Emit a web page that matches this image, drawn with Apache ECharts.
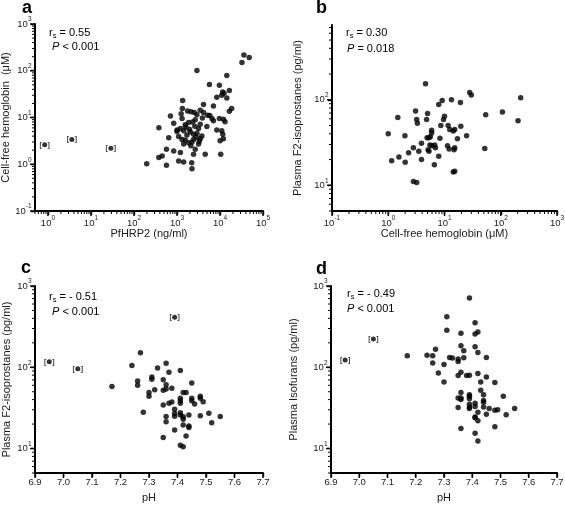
<!DOCTYPE html>
<html>
<head>
<meta charset="utf-8">
<script src="https://cdn.jsdelivr.net/npm/echarts@6/dist/echarts.min.js"></script>
<style>html,body{margin:0;padding:0;background:#fff;}#chart{width:565px;height:512px;}</style>
</head>
<body>
<div id="chart"></div>
<script>
// ---------- data ----------
// Panel a: PfHRP2 (ng/ml) vs cell-free hemoglobin (uM)
const aPoints = [[36000,216],[47800,193],[32400,151],[2910,101],[14400,79],[5690,51],[9680,49],[16500,38],[12400,33],[11000,30],[8430,27],[14400,26],[1355,23],[4140,19],[7040,17.7],[18700,15.6],[16500,13.6],[1333,15.6],[1766,13.8],[2117,13.2],[2524,12.8],[3470,14.3],[4140,12.8],[2910,11.4],[5120,11.2],[704,10.8],[9680,9.5],[12000,9.2],[13100,8.1],[1312,9.5],[2660,8.9],[839,7.5],[1862,7.8],[3470,7.2],[7040,8.5],[380,6.0],[1005,5.4],[1200,5.8],[1430,5.2],[3170,5.8],[4950,6.4],[2040,4.9],[2430,4.4],[2910,4.6],[8430,5.4],[11000,5.2],[11600,4.4],[643,3.7],[1094,3.9],[1312,3.4],[1563,3.3],[2430,3.4],[3470,3.5],[3800,4.0],[10050,3.2],[12000,3.5],[1430,2.7],[1862,2.9],[2230,3.0],[3170,2.7],[569,2.1],[839,1.93],[1200,1.78],[2660,2.1],[2430,1.64],[4530,1.64],[10400,1.64],[378,1.39],[453,1.5],[569,0.95],[1094,1.18],[1430,1.12],[2200,1.08],[2230,0.8],[198,1.03],[1700,4.2],[1950,5.6],[2600,6.5],[1550,7.0],[1250,12.0],[2800,3.8],[3900,9.8],[6500,9.5],[11500,35],[1000,5.0],[3300,3.1],[5800,11.0],[2100,2.5],[1600,6.2],[2300,8.0]];
const aExcluded = [[0.84,2.6],[3.6,3.4],[29,2.2]];

// Panel b: cell-free hemoglobin (uM) vs plasma F2-isoprostanes (pg/ml)
const bPoints = [[4.6,154],[28,122],[30,114],[13.3,100],[9.1,98],[7.9,88],[19.2,93],[107,72],[54,67],[226,106],[203,57],[3.06,74],[5.0,69],[1.48,62],[3.2,59],[3.3,53],[4.8,59],[10,64],[9.6,59],[5.9,44],[5.9,41],[1.0,40],[1.98,38],[8.6,50],[11.6,50],[12.4,45],[15.2,45],[14.3,43],[19.5,49],[24.7,38],[4.9,36],[5.3,36],[5.6,37],[8.3,35.5],[17,35],[3.9,31],[5.5,29.5],[6.0,29],[6.7,29.5],[6.9,27.5],[11.3,29],[12.1,26.5],[15.2,27.5],[14.8,26],[2.8,27.5],[5.1,26],[5.3,25],[3.5,25],[2.3,24],[1.55,21.4],[7.9,21.8],[1.15,19.4],[2.0,18.6],[3.9,20],[6.6,17.4],[14.3,14.3],[15.2,14.6],[2.8,11.1],[3.2,10.8],[52,27]];

// Panel c: pH vs plasma F2-isoprostanes (pg/ml)
const cPoints = [[7.17,58],[7.24,105],[7.27,151],[7.28,28],[7.26,68],[7.26,60],[7.30,49],[7.30,44],[7.31,76],[7.31,71],[7.32,53],[7.33,98],[7.36,112],[7.37,87],[7.41,91],[7.35,70],[7.36,61],[7.35,52],[7.36,54],[7.38,55],[7.45,64],[7.42,49],[7.43,49],[7.41,41.5],[7.41,38.8],[7.41,36],[7.45,41.5],[7.45,38.8],[7.46,35.3],[7.48,44],[7.48,41.5],[7.49,37.7],[7.35,34.4],[7.37,36],[7.38,37.4],[7.39,30.4],[7.39,27],[7.39,25],[7.41,27.6],[7.41,25.9],[7.42,24.6],[7.42,22.9],[7.44,25.9],[7.36,24.7],[7.36,21.4],[7.48,25.4],[7.51,27.2],[7.55,24.7],[7.52,20.8],[7.42,19.5],[7.44,18.9],[7.44,18.2],[7.39,16.9],[7.35,13.7],[7.43,14.3],[7.41,11.0],[7.42,10.5]];
const cExcluded = [[6.95,117],[7.05,96],[7.39,413]];

// Panel d: pH vs plasma isofurans (pg/ml)
const dPoints = [[7.17,139],[7.24,141],[7.26,139],[7.27,167],[7.26,113],[7.28,85],[7.30,108],[7.30,66],[7.31,417],[7.31,285],[7.32,132],[7.33,130],[7.35,126],[7.35,118],[7.36,263],[7.36,184],[7.37,160],[7.37,131],[7.35,79],[7.36,87],[7.38,79],[7.39,80],[7.39,714],[7.41,353],[7.41,256],[7.42,272],[7.41,179],[7.42,152],[7.45,132],[7.45,76],[7.42,84],[7.43,66],[7.43,52],[7.44,46],[7.44,39],[7.48,65],[7.51,44],[7.36,49],[7.36,42],[7.36,40],[7.39,46],[7.39,44],[7.39,41],[7.35,42],[7.35,32],[7.41,36],[7.41,33],[7.39,35],[7.39,32.5],[7.39,31],[7.44,37],[7.44,32.5],[7.46,31],[7.42,28],[7.42,22],[7.41,24.5],[7.41,24],[7.45,26.5],[7.48,29.5],[7.49,30],[7.52,26],[7.55,31],[7.36,17.7],[7.41,15.4],[7.42,12.4],[7.48,18.5]];
const dExcluded = [[6.95,123],[7.05,222]];

// tick labels
const aXTicks = [1,10,100,1000,10000,100000];
const aYTicks = [0.1,1,10,100,1000];
const bXTicks = [0.1,1,10,100,1000];
const bYTicks = [10,100];
const cdYTicks = [10,100,1000];
const pHTicks = [6.9,7.0,7.1,7.2,7.3,7.4,7.5,7.6,7.7];

const panelText = [
  {letter:'a', rs:' = 0.55', p:' < 0.001'},
  {letter:'b', rs:' = 0.30', p:' = 0.018'},
  {letter:'c', rs:' = - 0.51', p:' < 0.001'},
  {letter:'d', rs:' = - 0.49', p:' < 0.001'}
];

// ---------- styling / layout ----------
const FONT = '"Liberation Sans", Arial, sans-serif';
const INK = '#1a1a1a';

function minorOf(lo, hi) {
  const out = [];
  for (let e = -3; e <= 6; e++) {
    for (let m = 2; m <= 9; m++) {
      const v = +(m * Math.pow(10, e)).toPrecision(6);
      if (v >= lo * 0.9999 && v <= hi * 1.0001) out.push(v);
    }
  }
  return out;
}

const supRich = {
  b: {fontSize: 9.5, fontFamily: FONT, color: INK, lineHeight: 16},
  s: {fontSize: 6.5, fontFamily: FONT, color: INK, lineHeight: 7, verticalAlign: 'top'}
};
const supFmt = v => '{b|10}{s|' + Math.round(Math.log10(v)) + '}';
const nameStyle = {fontSize: 11, fontFamily: FONT, color: INK};

function logAxis(grid, lo, hi, majors, pos, name, nameGap, labelMargin) {
  return {
    type: 'log', logBase: 10, gridIndex: grid, min: lo, max: hi, position: pos,
    axisLine: {show: true, onZero: false, lineStyle: {color: '#000', width: 2}},
    axisTick: {show: true, inside: false, length: 4, customValues: majors, lineStyle: {color: '#000', width: 1.4}},
    axisLabel: {show: true, customValues: majors, formatter: supFmt, rich: supRich, margin: labelMargin},
    splitLine: {show: false},
    name: name, nameLocation: 'middle', nameGap: nameGap, nameTextStyle: nameStyle
  };
}
function pHAxis(grid, nameGap) {
  return {
    type: 'value', gridIndex: grid, min: 6.9, max: 7.7, position: 'bottom',
    axisLine: {show: true, onZero: false, lineStyle: {color: '#000', width: 2}},
    axisTick: {show: true, inside: false, length: 4, customValues: pHTicks, lineStyle: {color: '#000', width: 1.4}},
    axisLabel: {show: true, customValues: pHTicks, formatter: v => v.toFixed(1), fontSize: 9.5, fontFamily: FONT, color: INK, margin: 4},
    splitLine: {show: false},
    name: 'pH', nameLocation: 'middle', nameGap: nameGap, nameTextStyle: nameStyle
  };
}

const gridBase = {outerBoundsMode: 'none', containLabel: false, show: false};
const grids = [
  Object.assign({left: 35, top: 24, width: 228, height: 187}, gridBase),
  Object.assign({left: 332, top: 25, width: 225, height: 186}, gridBase),
  Object.assign({left: 35, top: 286, width: 228, height: 187}, gridBase),
  Object.assign({left: 331, top: 286, width: 226, height: 187}, gridBase)
];

const xAxes = [
  logAxis(0, 0.5, 100000, aXTicks, 'bottom', 'PfHRP2 (ng/ml)', 17, 4),
  logAxis(1, 0.1, 1000, bXTicks, 'bottom', 'Cell-free hemoglobin (\u03BCM)', 16, 4),
  pHAxis(2, 19),
  pHAxis(3, 19)
];
const yAxes = [
  logAxis(0, 0.1, 1000, aYTicks, 'left', 'Cell-free hemoglobin  (\u03BCM)', 21, 3.5),
  logAxis(1, 5, 750, bYTicks, 'left', 'Plasma F2-isoprostanes (pg/ml)', 29, 3.5),
  logAxis(2, 5, 1000, cdYTicks, 'left', 'Plasma F2-isoprostanes (pg/ml)', 23, 3.5),
  logAxis(3, 5, 1000, cdYTicks, 'left', 'Plasma Isofurans (pg/ml)', 32, 3.5)
];

function dots(xi, yi, data, size) {
  return {type: 'scatter', xAxisIndex: xi, yAxisIndex: yi, data: data, symbol: 'circle', symbolSize: size,
    itemStyle: {color: '#000'}, silent: true, z: 3};
}
function bracketed(xi, yi, data, size) {
  const s = dots(xi, yi, data, size);
  s.label = {show: true, position: 'inside', formatter: '[   ]', fontSize: 7, fontWeight: 'bold', fontFamily: FONT, color: '#000'};
  return s;
}

const series = [
  dots(0, 0, aPoints, 5.5), bracketed(0, 0, aExcluded, 5),
  dots(1, 1, bPoints, 5.5),
  dots(2, 2, cPoints, 5.5), bracketed(2, 2, cExcluded, 5),
  dots(3, 3, dPoints, 5.5), bracketed(3, 3, dExcluded, 5)
];

// annotation text positions
const letterPos = [[22, 8], [316, 8], [21, 268], [316, 269]];
const rsPos = [[49, 33], [346, 33], [49, 297], [347, 294]];
const pPos = [[52, 47], [347, 49], [52, 312], [347, 309]];

const annRich = {
  r: {fontSize: 11, fontFamily: FONT, color: INK, lineHeight: 14},
  sub: {fontSize: 7.5, fontFamily: FONT, color: INK, lineHeight: 8, verticalAlign: 'bottom'},
  t: {fontSize: 11, fontFamily: FONT, color: INK, lineHeight: 14},
  it: {fontSize: 11, fontFamily: FONT, color: INK, fontStyle: 'italic', lineHeight: 14}
};

const textEls = [];
panelText.forEach((pt, i) => {
  textEls.push({type: 'text', x: letterPos[i][0], y: letterPos[i][1],
    style: {text: pt.letter, font: 'bold 18px ' + FONT, fill: '#000', verticalAlign: 'middle', align: 'left'}});
  textEls.push({type: 'text', x: rsPos[i][0], y: rsPos[i][1],
    style: {text: '{r|r}{sub|s}{t|' + pt.rs + '}', rich: annRich, verticalAlign: 'middle', align: 'left'}});
  textEls.push({type: 'text', x: pPos[i][0], y: pPos[i][1],
    style: {text: '{it|P}{t|' + pt.p + '}', rich: annRich, verticalAlign: 'middle', align: 'left'}});
});

const option = {
  animation: false,
  backgroundColor: '#fff',
  grid: grids,
  xAxis: xAxes,
  yAxis: yAxes,
  series: series,
  graphic: textEls
};

const chart = echarts.init(document.getElementById('chart'), null, {renderer: 'canvas'});
chart.setOption(option);

// axis lines and major/minor ticks, positioned through the library's axis scales
const frames = [
  {g: 0, xMin: 0.5, xMax: 100000, yMin: 0.1, yMax: 1000, xMajor: aXTicks, xMinor: minorOf(0.5, 100000), yMajor: aYTicks, yMinor: minorOf(0.1, 1000)},
  {g: 1, xMin: 0.1, xMax: 1000, yMin: 5, yMax: 750, xMajor: bXTicks, xMinor: minorOf(0.1, 1000), yMajor: bYTicks, yMinor: minorOf(5, 750)},
  {g: 2, xMin: 6.9, xMax: 7.7, yMin: 5, yMax: 1000, xMajor: pHTicks, xMinor: [], yMajor: cdYTicks, yMinor: minorOf(5, 1000)},
  {g: 3, xMin: 6.9, xMax: 7.7, yMin: 5, yMax: 1000, xMajor: pHTicks, xMinor: [], yMajor: cdYTicks, yMinor: minorOf(5, 1000)}
];

const frameEls = [];
function bar(x, y, w, h) {
  frameEls.push({type: 'rect', silent: true, z: 50, shape: {x: x, y: y, width: w, height: h}, style: {fill: '#000'}});
}
frames.forEach(f => {
  const px = (xv, yv) => chart.convertToPixel({gridIndex: f.g}, [xv, yv]);
  const corner = px(f.xMin, f.yMin);
  const L = corner[0], B = corner[1];
  const T = px(f.xMin, f.yMax)[1];
  const R = px(f.xMax, f.yMin)[0];
  bar(L - 1, T, 2, B - T + 1);
  bar(L - 1, B - 1, R - L + 1, 2);
  f.xMajor.forEach(v => { const x = px(v, f.yMin)[0]; bar(x - 0.7, B, 1.4, 5); });
  f.xMinor.forEach(v => { const x = px(v, f.yMin)[0]; bar(x - 0.5, B, 1, 3); });
  f.yMajor.forEach(v => { const y = px(f.xMin, v)[1]; bar(L - 5, y - 0.7, 5, 1.4); });
  f.yMinor.forEach(v => { const y = px(f.xMin, v)[1]; bar(L - 3, y - 0.5, 3, 1); });
});

chart.setOption({graphic: textEls.concat(frameEls)});
</script>
</body>
</html>
